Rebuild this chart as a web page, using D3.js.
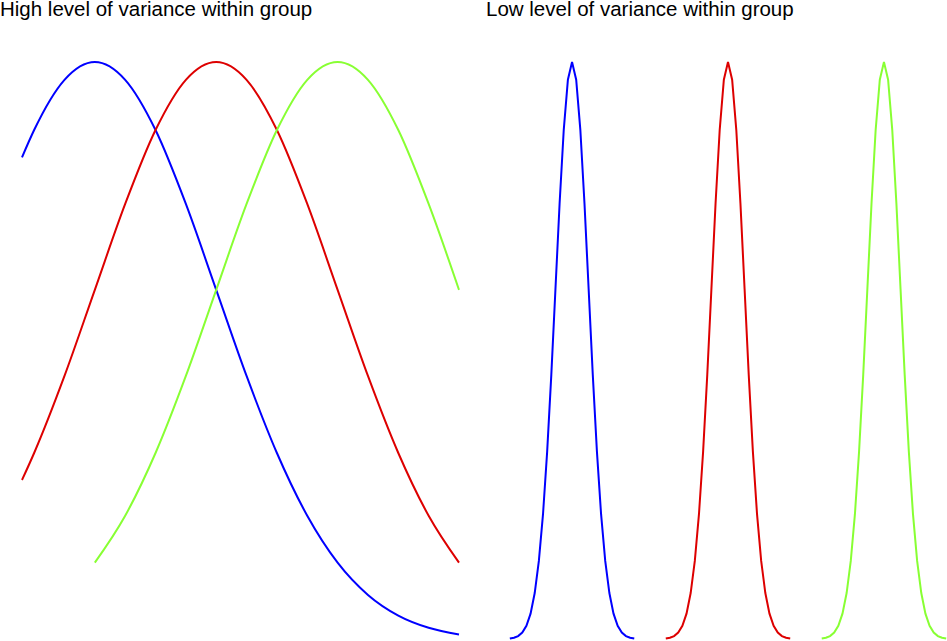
<!DOCTYPE html>
<html><head><meta charset="utf-8">
<script src="https://cdn.jsdelivr.net/npm/d3@7"></script>
<style>body{margin:0;background:#fff}</style></head>
<body><svg id="c" width="947" height="641"></svg>
<script>
const titles = ["High level of variance within group", "Low level of variance within group"];
const groups = ["A", "B", "C"];
const colors = ["#0000ff", "#dd0000", "#88ff33"];
// wide curves (x in group units, y relative density)
const wideX = [[-0.6,-0.5,-0.25,0,0.25,0.5,0.75,1,1.25,1.5,1.75,2,2.25,2.5,2.75,3],
               [-0.6,-0.5,-0.25,0,0.25,0.5,0.75,1,1.25,1.5,1.75,2,2.25,2.5,2.75,3],
               [0,0.25,0.5,0.75,1,1.25,1.5,1.75,2,2.25,2.5,2.75,3]];
const wideY = [[.8353,.8825,.9692,1,.9692,.8825,.7548,.6065,.4578,.3247,.2163,.1353,.0796,.0439,.0228,.0111],
               [.278,.3247,.4578,.6065,.7548,.8825,.9692,1,.9692,.8825,.7548,.6065,.4578,.3247,.2163,.1353],
               [.1353,.2163,.3247,.4578,.6065,.7548,.8825,.9692,1,.9692,.8825,.7548,.6065]];
// narrow curves
const narrowMeans = [0, 9.4, 18.8];
const narrowZ = [-3.75,-3.5,-3.25,-3,-2.75,-2.5,-2.25,-2,-1.75,-1.5,-1.25,-1,-0.75,-0.5,-0.25,0,0.25,0.5,0.75,1,1.25,1.5,1.75,2,2.25,2.5,2.75,3,3.25,3.5,3.75];
const narrowY = [.0009,.0022,.0051,.0111,.0228,.0439,.0796,.1353,.2163,.3247,.4578,.6065,.7548,.8825,.9692,1,.9692,.8825,.7548,.6065,.4578,.3247,.2163,.1353,.0796,.0439,.0228,.0111,.0051,.0022,.0009];

const svg = d3.select("#c");
const xL = d3.scaleLinear().domain([-0.6, 3]).range([22, 459]);
const yL = d3.scaleLinear().domain([0, 1]).range([641, 62]);
const xR = d3.scaleLinear().domain([-3.8, 22.6]).range([509, 947]);
const yR = d3.scaleLinear().domain([0, 1]).range([639, 62]);

svg.selectAll("text.t").data(titles).join("text")
  .attr("x", (d,i) => i ? 486 : 0).attr("y", 16)
  .attr("font-family", "Liberation Sans, Arial, sans-serif").attr("font-size", 20.5)
  .attr("fill", "#000").text(d => d);

const lineL = d3.line().x(d => xL(d[0])).y(d => yL(d[1])).curve(d3.curveMonotoneX);
groups.forEach((g, i) => {
  svg.append("path").attr("d", lineL(d3.zip(wideX[i], wideY[i])))
    .attr("fill", "none").attr("stroke", colors[i]).attr("stroke-width", 2);
});
const lineR = d3.line().x(d => xR(d[0])).y(d => yR(d[1]));
groups.forEach((g, i) => {
  svg.append("path").attr("d", lineR(narrowZ.map((z, k) => [z + narrowMeans[i], narrowY[k]])))
    .attr("fill", "none").attr("stroke", colors[i]).attr("stroke-width", 2);
});
</script></body></html>
